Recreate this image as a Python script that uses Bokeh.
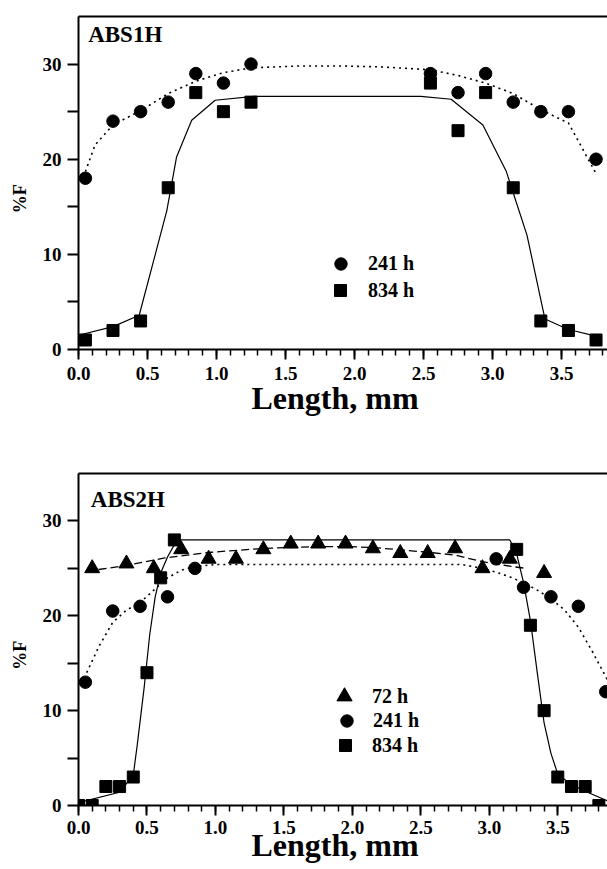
from bokeh.plotting import figure
from bokeh.models import (Legend, LegendItem, Label, LinearAxis, FixedTicker,
                          SingleIntervalTicker, Range1d, NumeralTickFormatter)
from bokeh.layouts import column
from bokeh.embed import file_html
from bokeh.resources import INLINE

FONT = "Liberation Serif"
NBSP = "\u00a0"

# ---------------- ABS1H data ----------------
abs1_x = [0.05, 0.25, 0.45, 0.65, 0.85, 1.05, 1.25, 2.55, 2.75, 2.95, 3.15, 3.35, 3.55, 3.75]
abs1_241 = [18, 24, 25, 26, 29, 28, 30, 29, 27, 29, 26, 25, 25, 20]
abs1_834 = [1, 2, 3, 17, 27, 25, 26, 28, 23, 27, 17, 3, 2, 1]
abs1_fit241_x = [0.05, 0.12, 0.25, 0.45, 0.65, 0.85, 1.05, 1.25, 1.6, 1.9, 2.2, 2.55,
                 2.75, 2.95, 3.15, 3.35, 3.55, 3.75]
abs1_fit241_y = [18.7, 21.5, 23.6, 25.1, 26.9, 28.2, 29.1, 29.6, 29.8, 29.8, 29.7, 29.4,
                 28.8, 28.0, 26.9, 25.2, 23.8, 18.5]
abs1_fit834_x = [0.0, 0.25, 0.44, 0.64, 0.71, 0.82, 0.99, 1.27, 2.48, 2.70, 2.93, 3.10,
                 3.25, 3.38, 3.55, 3.75]
abs1_fit834_y = [1.5, 2.4, 3.6, 14.6, 20.2, 24.1, 26.2, 26.6, 26.6, 26.3, 23.6, 18.7,
                 12.0, 3.2, 2.1, 1.4]

# ---------------- ABS2H data ----------------
abs2_x72 = [0.1, 0.35, 0.55, 0.75, 0.95, 1.15, 1.35, 1.55, 1.75, 1.95, 2.15, 2.35, 2.55,
            2.75, 2.95, 3.15, 3.4]
abs2_72 = [25, 25.5, 25, 27, 26, 26, 27, 27.6, 27.6, 27.6, 27.1, 26.6, 26.6, 27.1, 25, 26, 24.5]
abs2_x241 = [0.05, 0.25, 0.45, 0.65, 0.85, 3.05, 3.25, 3.45, 3.65, 3.85]
abs2_241 = [13, 20.5, 21, 22, 25, 26, 23, 22, 21, 12]
abs2_x834 = [0.0, 0.1, 0.2, 0.3, 0.4, 0.5, 0.6, 0.7, 3.2, 3.3, 3.4, 3.5, 3.6, 3.7, 3.8]
abs2_834 = [0, 0, 2, 2, 3, 14, 24, 28, 27, 19, 10, 3, 2, 2, 0]

abs2_fit72_x = [0.06, 0.35, 0.63, 0.97, 1.35, 1.75, 1.95, 2.15, 2.55, 2.75, 2.95, 3.16, 3.27]
abs2_fit72_y = [24.7, 25.3, 26.1, 26.7, 27.1, 27.3, 27.3, 27.2, 26.7, 26.4, 25.7, 25.2, 25.0]
abs2_fit241_x = [0.06, 0.15, 0.25, 0.35, 0.45, 0.55, 0.65, 0.75, 0.85, 1.0, 2.8, 2.95, 3.05,
                 3.15, 3.25, 3.35, 3.45, 3.55, 3.65, 3.75, 3.86]
abs2_fit241_y = [14.0, 16.8, 19.3, 20.6, 21.4, 22.7, 24.0, 24.8, 25.2, 25.4, 25.4, 25.0, 24.6,
                 24.1, 23.5, 22.7, 21.8, 20.6, 18.8, 16.3, 13.3]
abs2_fit834_x = [0.0, 0.3, 0.4, 0.43, 0.48, 0.52, 0.56, 0.6, 0.65, 0.7, 0.75, 3.15, 3.2,
                 3.25, 3.3, 3.35, 3.4, 3.45, 3.5, 3.6, 3.7, 3.86]
abs2_fit834_y = [0.3, 1.4, 3.2, 6.5, 12.5, 18, 22, 24.5, 26.2, 27.5, 28, 28, 26.5,
                 23.5, 19.5, 14, 8.7, 5.5, 3.3, 2.2, 1.5, 0.5]

y_major = [0, 10, 20, 30]
y_minor = [5, 15, 25]
x_title = "Length, mm"
y_title = "%F"


def style(p, tick_standoff, title_standoff):
    p.outline_line_color = None
    p.xgrid.visible = False
    p.ygrid.visible = False
    p.background_fill_color = "white"
    p.border_fill_color = "white"

    xa = p.xaxis[0]
    xa.ticker = SingleIntervalTicker(interval=0.5, num_minor_ticks=5)
    xa.formatter = NumeralTickFormatter(format="0.0")
    xa.axis_line_width = 2
    xa.major_tick_line_width = 2
    xa.minor_tick_line_width = 1.5
    xa.major_tick_out = 10
    xa.major_tick_in = 0
    xa.minor_tick_out = 6
    xa.minor_tick_in = 0
    xa.major_label_standoff = tick_standoff
    xa.major_label_text_font = FONT
    xa.major_label_text_font_style = "bold"
    xa.major_label_text_font_size = "19px"
    xa.major_label_text_color = "black"
    # trailing no-break spaces nudge the centred title slightly left, as in the original
    xa.axis_label = x_title + NBSP * 2
    xa.axis_label_text_font = FONT
    xa.axis_label_text_font_style = "bold"
    xa.axis_label_text_font_size = "32px"
    xa.axis_label_text_color = "black"
    xa.axis_label_standoff = title_standoff

    ya = p.yaxis[0]
    ya.ticker = FixedTicker(ticks=y_major, minor_ticks=y_minor)
    ya.axis_line_width = 2
    ya.major_tick_line_width = 2
    ya.minor_tick_line_width = 2
    ya.major_tick_out = 11
    ya.major_tick_in = 0
    ya.minor_tick_out = 11
    ya.minor_tick_in = 0
    ya.major_label_standoff = 6
    ya.major_label_text_font = FONT
    ya.major_label_text_font_style = "bold"
    ya.major_label_text_font_size = "19px"
    ya.major_label_text_color = "black"
    # trailing no-break spaces shift the rotated title a little below the centre
    ya.axis_label = y_title + NBSP * 7
    ya.axis_label_text_font = FONT
    ya.axis_label_text_font_style = "bold"
    ya.axis_label_text_font_size = "18px"
    ya.axis_label_text_color = "black"
    ya.axis_label_standoff = 10

    top = LinearAxis(ticker=FixedTicker(ticks=[]), axis_line_width=2,
                     major_tick_out=0, major_tick_in=0, minor_tick_out=0, minor_tick_in=0,
                     major_label_text_font_size="0px", major_label_standoff=0)
    p.add_layout(top, "above")


def single_legend(p, label, renderer, loc, glyph, standoff):
    leg = Legend(items=[LegendItem(label=label, renderers=[renderer])],
                 location=loc, background_fill_alpha=0, border_line_alpha=0,
                 padding=0, margin=0, spacing=0, glyph_width=glyph, glyph_height=glyph,
                 label_height=glyph, label_standoff=standoff, label_text_font=FONT,
                 label_text_font_style="bold", label_text_font_size="20px",
                 label_text_color="black")
    p.add_layout(leg)


# ---------------- top panel ----------------
p1 = figure(width=607, height=440, x_range=Range1d(0, 3.833), y_range=Range1d(0, 35),
            output_backend="svg", toolbar_location=None,
            min_border_left=78, min_border_right=0, min_border_top=16, min_border_bottom=91)
style(p1, 7, -3)

p1.line(abs1_fit241_x, abs1_fit241_y, line_color="black", line_width=1.6, line_dash="2 4")
p1.line(abs1_fit834_x, abs1_fit834_y, line_color="black", line_width=1.2)
c1 = p1.scatter(abs1_x, abs1_241, marker="circle", size=12.5, color="black")
s1 = p1.scatter(abs1_x, abs1_834, marker="square", size=12, color="black")

single_legend(p1, "241 h", c1, (247, 70), 31, 12)
single_legend(p1, "834 h", s1, (247, 44), 30, 13)
p1.add_layout(Label(x=0.07, y=33.1, text="ABS1H", text_font=FONT, text_font_style="bold",
                    text_font_size="23px", text_color="black", text_baseline="alphabetic"))

# ---------------- bottom panel ----------------
p2 = figure(width=607, height=429, x_range=Range1d(0, 3.863), y_range=Range1d(0, 35),
            output_backend="svg", toolbar_location=None,
            min_border_left=72, min_border_right=0, min_border_top=33, min_border_bottom=64)
style(p2, 5, -10)

p2.line(abs2_fit241_x, abs2_fit241_y, line_color="black", line_width=1.6, line_dash="2 4")
p2.line(abs2_fit72_x, abs2_fit72_y, line_color="black", line_width=1.3, line_dash="8 4")
p2.line(abs2_fit834_x, abs2_fit834_y, line_color="black", line_width=1.2)
t2 = p2.scatter(abs2_x72, abs2_72, marker="triangle", size=15, color="black")
c2 = p2.scatter(abs2_x241, abs2_241, marker="circle", size=12.5, color="black")
s2 = p2.scatter(abs2_x834, abs2_834, marker="square", size=12, color="black")

single_legend(p2, "72 h", t2, (247, 90), 38, 9)
single_legend(p2, "241 h", c2, (253, 69), 31, 11)
single_legend(p2, "834 h", s2, (252, 45), 30, 12)
p2.add_layout(Label(x=0.09, y=32.3, text="ABS2H", text_font=FONT, text_font_style="bold",
                    text_font_size="23px", text_color="black", text_baseline="alphabetic"))

layout = column(p1, p2, spacing=0)
open("out.html", "w").write(file_html(layout, INLINE))
